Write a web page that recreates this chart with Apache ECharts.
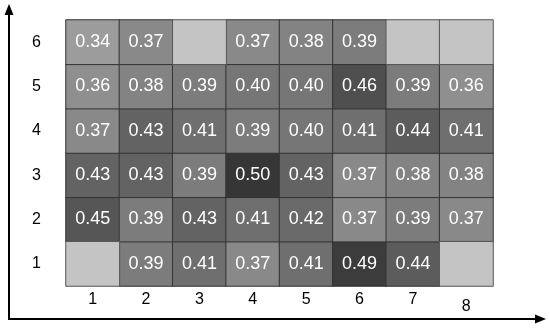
<!DOCTYPE html>
<html><head><meta charset="utf-8">
<script src="https://cdn.jsdelivr.net/npm/echarts@6/dist/echarts.min.js"></script>
<style>html,body{margin:0;padding:0;background:#fff}#c{width:550px;height:331px}</style>
</head><body><div id="c"></div>
<script>
var xCategories = ['1','2','3','4','5','6','7','8'];
var yCategories = ['1','2','3','4','5','6'];
// rows from bottom (1) to top (6); null = missing cell
var row1 = [null, 0.39, 0.41, 0.37, 0.41, 0.49, 0.44, null];
var row2 = [0.45, 0.39, 0.43, 0.41, 0.42, 0.37, 0.39, 0.37];
var row3 = [0.43, 0.43, 0.39, 0.50, 0.43, 0.37, 0.38, 0.38];
var row4 = [0.37, 0.43, 0.41, 0.39, 0.40, 0.41, 0.44, 0.41];
var row5 = [0.36, 0.38, 0.39, 0.40, 0.40, 0.46, 0.39, 0.36];
var row6 = [0.34, 0.37, null, 0.37, 0.38, 0.39, null, null];
var rows = [row1, row2, row3, row4, row5, row6];

var values = [], missing = [];
rows.forEach(function (r, yi) {
  r.forEach(function (v, xi) {
    if (v === null) missing.push([xi, yi, 0]);
    else values.push([xi, yi, v]);
  });
});

var FONT = 'Liberation Sans, Arial, sans-serif';
var chart = echarts.init(document.getElementById('c'));
chart.setOption({
  animation: false,
  grid: {left: 66, top: 20, width: 427, height: 266},
  xAxis: {
    type: 'category', data: xCategories,
    axisLine: {show: false}, axisTick: {show: false}, splitLine: {show: false},
    axisLabel: {
      margin: 6, color: '#000', fontSize: 16, fontFamily: FONT,
      formatter: function (v) { return v === '8' ? '{d|' + v + '}' : v; },
      rich: {d: {fontSize: 16, color: '#000', padding: [7, 0, 0, 0], fontFamily: FONT}}
    }
  },
  yAxis: {
    type: 'category', data: yCategories,
    axisLine: {show: false}, axisTick: {show: false}, splitLine: {show: false},
    axisLabel: {margin: 25, color: '#000', fontSize: 16, fontFamily: FONT}
  },
  visualMap: {
    show: false, seriesIndex: 0, min: 0.34, max: 0.50, dimension: 2,
    inRange: {color: ['#9c9c9c', '#363636']}
  },
  series: [
    {
      type: 'heatmap', data: values,
      itemStyle: {borderColor: '#333', borderWidth: 1},
      label: {
        show: true, color: '#fff', fontSize: 18, fontFamily: FONT,
        formatter: function (p) { return p.value[2].toFixed(2); }
      },
      emphasis: {disabled: true}
    },
    {
      type: 'heatmap', data: missing,
      itemStyle: {color: '#c4c4c4', borderColor: '#555', borderWidth: 1},
      label: {show: false},
      emphasis: {disabled: true}
    }
  ],
  graphic: [
    {type: 'line', shape: {x1: 9, y1: 320, x2: 9, y2: 12}, style: {stroke: '#000', lineWidth: 2}},
    {type: 'polygon', shape: {points: [[9, 4], [4.5, 15], [13.5, 15]]}, style: {fill: '#000'}},
    {type: 'line', shape: {x1: 8, y1: 319, x2: 538, y2: 319}, style: {stroke: '#000', lineWidth: 2}},
    {type: 'polygon', shape: {points: [[546, 319], [535, 314.5], [535, 323.5]]}, style: {fill: '#000'}}
  ]
});
</script></body></html>
